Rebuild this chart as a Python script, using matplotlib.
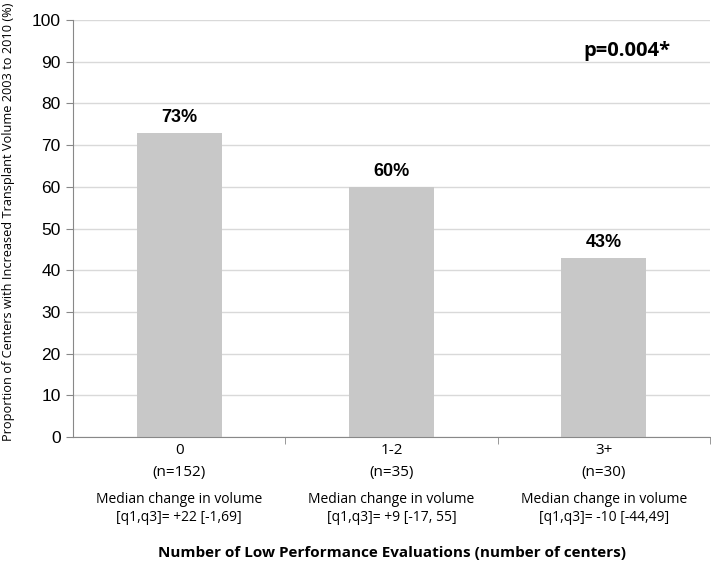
import numpy as np
import matplotlib
matplotlib.use("Agg")
import matplotlib.pyplot as plt
import matplotlib.transforms as mtransforms

# Dados
grupos = ["0", "1-2", "3+"]
n_centros = [152, 35, 30]
proporcoes = [73, 60, 43]
medianas = ["+22 [-1,69]", "+9 [-17, 55]", "-10 [-44,49]"]
valor_p = "p=0.004*"

fig = plt.figure(figsize=(7.11, 5.62), dpi=100)
ax = fig.add_axes([0.1027, 0.2224, 0.8959, 0.742])

x = np.arange(len(grupos))
rects = ax.bar(x, proporcoes, width=0.4, color="#c8c8c8", zorder=2)
ax.bar_label(rects, labels=[f"{v}%" for v in proporcoes], padding=5,
             fontsize=13, fontweight="bold", family="Liberation Sans")

ax.set_xlim(-0.5, 2.5)
ax.set_ylim(0, 100)
ax.set_yticks(np.arange(0, 101, 10))
ax.yaxis.grid(True, color="#d9d9d9", linewidth=1, zorder=0)
ax.set_axisbelow(True)

for lbl in ax.get_yticklabels():
    lbl.set_family("Liberation Sans")
    lbl.set_fontsize(12.5)
ax.tick_params(axis="y", length=5, color="#888888", pad=4)

# rótulos das categorias
ax.set_xticks(x)
ax.set_xticklabels([f"{g}\n(n={n})" for g, n in zip(grupos, n_centros)],
                   family="Open Sans", fontsize=11, linespacing=1.7)
ax.tick_params(axis="x", length=0, pad=4)
ax.set_xticks([0.5, 1.5, 2.5], minor=True)
ax.tick_params(axis="x", which="minor", length=5, color="#888888")

trans = mtransforms.blended_transform_factory(ax.transData, ax.transAxes)
for xi, m in zip(x, medianas):
    ax.text(xi, -0.133, f"Median change in volume\n[q1,q3]= {m}", transform=trans,
            ha="center", va="top", fontsize=10, family="Open Sans", linespacing=1.25)

ax.text(0.5, -0.262, "Number of Low Performance Evaluations (number of centers)",
        transform=ax.transAxes, ha="center", va="top", fontsize=11,
        fontweight="bold", family="Open Sans")

fig.text(0.012, 0.605, "Proportion of Centers with Increased Transplant Volume 2003 to 2010 (%)",
         rotation=90, ha="center", va="center", fontsize=9.2, family="Open Sans")

ax.text(0.87, 0.925, valor_p, transform=ax.transAxes, ha="center", va="center",
        fontsize=14.5, fontweight="bold", family="Open Sans")

for s in ["top", "right"]:
    ax.spines[s].set_visible(False)
ax.spines["left"].set_color("#888888")
ax.spines["bottom"].set_color("#888888")

fig.savefig("out.png", dpi=100)
